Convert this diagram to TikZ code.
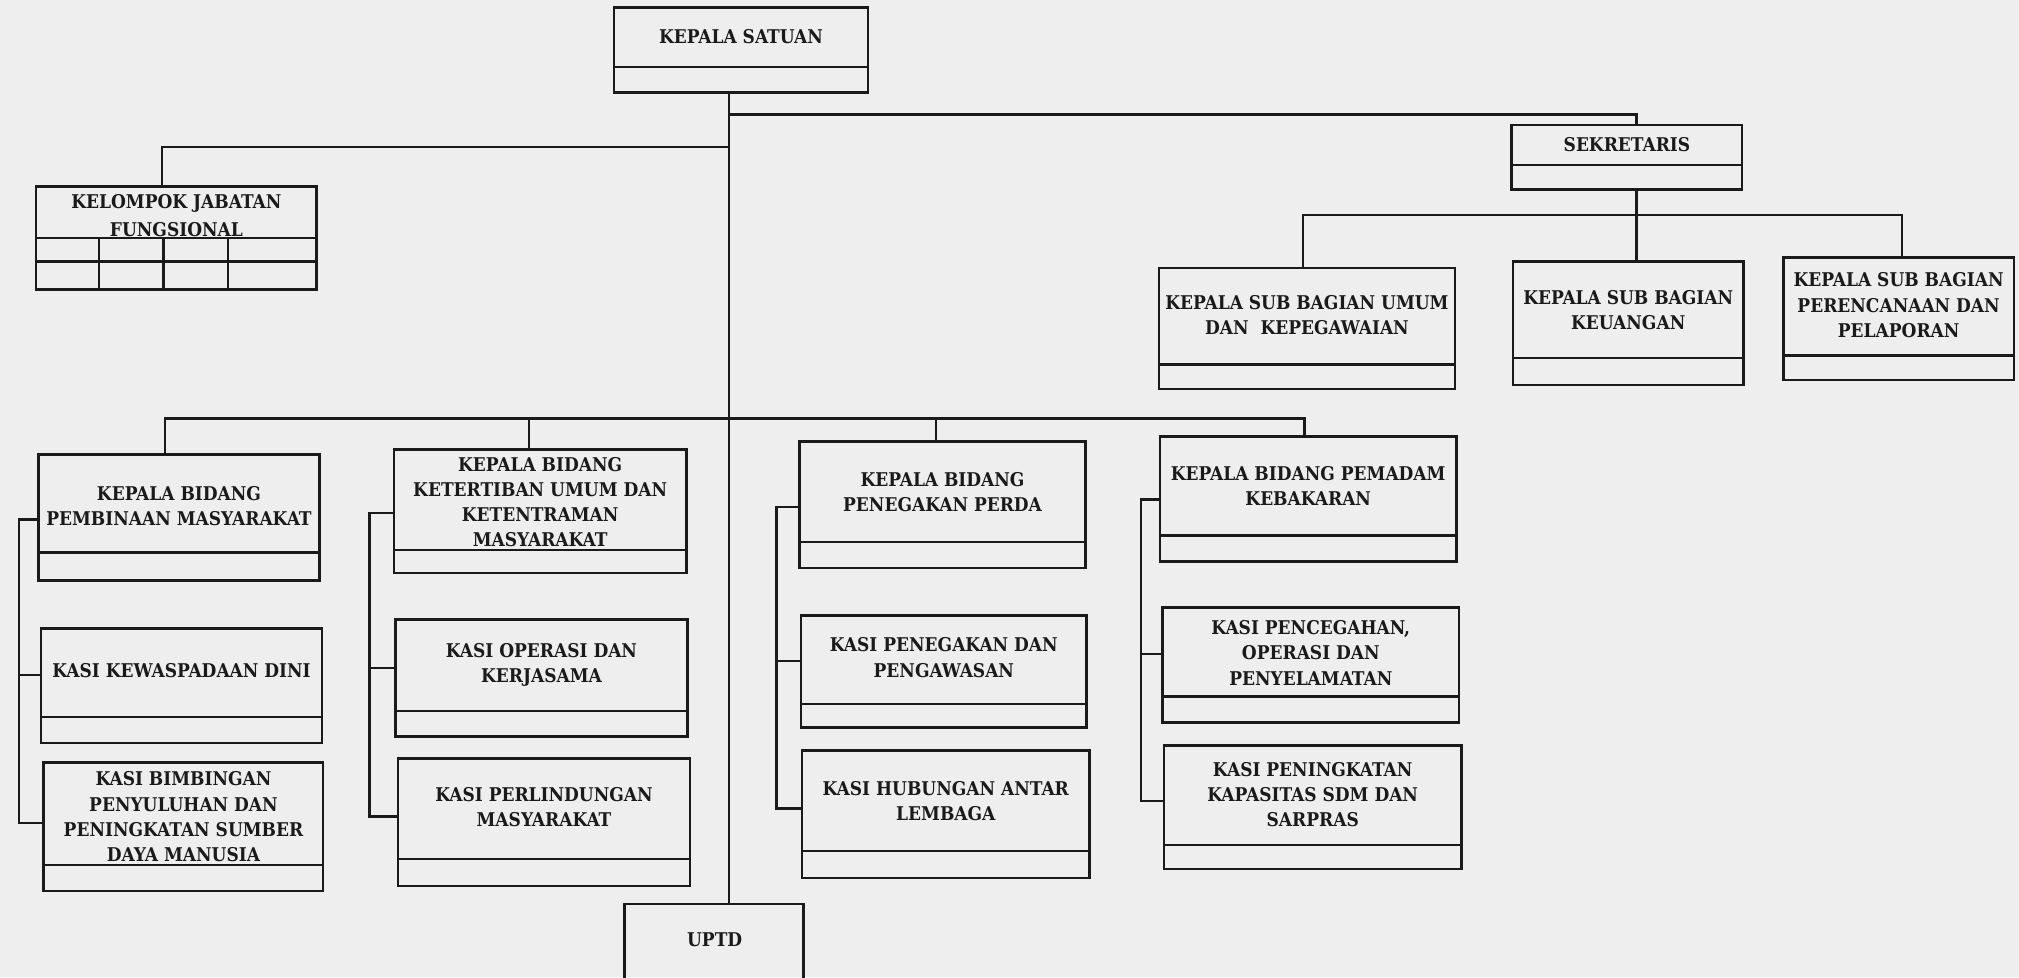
\documentclass[tikz,border=0pt]{standalone}
\usepackage{fontspec}
\usetikzlibrary{fit,calc}
\newfontfamily\orgfont{DejaVu Serif Condensed}
\definecolor{paper}{HTML}{EEEEEE}
\definecolor{ink}{HTML}{1A1A1A}

\tikzset{
  orgbox/.style={draw=ink, line width=1pt, inner sep=0pt, fit={#1}},
  wire/.style={draw=ink, line width=0.9pt},
  lbl/.style={font={\orgfont\bfseries\fontsize{7.35pt}{9.8pt}\selectfont}, text=ink,
              align=center, inner sep=0pt},
}

% name, x1, y1, x2, y2, divider y, text y, text
\newcommand\orgunit[8]{%
  \node[orgbox={(#2,#3) (#4,#5)}] (#1) {};
  \draw[wire] (#2,#6) -- (#4,#6);
  \node[lbl] (#1-t) at ({(#2+#4)/2},#7) {#8};
}

\begin{document}
\begin{tikzpicture}[x=0.5pt,y=-0.5pt]
  \useasboundingbox (0,0) rectangle (1568,759);
  \fill[paper] (0,0) rectangle (1568,759);
  \clip (0,0) rectangle (1568,759);

  % head and staff units
  \orgunit{ks}{477}{6}{674}{72}{52}{28.5}{KEPALA SATUAN}
  \orgunit{sek}{1174}{97}{1353}{147}{128}{112.6}{SEKRETARIS}
  \orgunit{umum}{900}{208}{1130}{302}{283}{245}{KEPALA SUB BAGIAN UMUM\\DAN\ \ KEPEGAWAIAN}
  \orgunit{keu}{1175}{203}{1354}{299}{278}{240.7}{KEPALA SUB BAGIAN\\KEUANGAN}
  \orgunit{ren}{1385}{200}{1564}{295}{276}{237}{KEPALA SUB BAGIAN\\PERENCANAAN DAN\\PELAPORAN}

  % functional group with its grid
  \node[orgbox={(28,145) (246,225)}] (kjf) {};
  \node[lbl, font={\orgfont\bfseries\fontsize{7.35pt}{11pt}\selectfont}] (kjf-t) at (137,167.6) {KELOMPOK JABATAN\\FUNGSIONAL};
  \draw[wire] (28,185) -- (246,185);
  \draw[wire] (28,203) -- (246,203);
  \foreach \cx in {77,127,177} \draw[wire] (\cx,185) -- (\cx,225);

  % field heads and their sections
  \orgunit{b1}{30}{353}{248}{451}{429}{393}{KEPALA BIDANG\\PEMBINAAN MASYARAKAT}
  \orgunit{b1a}{32}{488}{250}{577}{557}{520.7}{KASI KEWASPADAAN DINI}
  \orgunit{b1b}{34}{592}{251}{692}{672}{634.4}{KASI BIMBINGAN\\PENYULUHAN DAN\\PENINGKATAN SUMBER\\DAYA MANUSIA}

  \orgunit{b2}{306}{349}{533}{445}{427}{390}{KEPALA BIDANG\\KETERTIBAN UMUM DAN\\KETENTRAMAN\\MASYARAKAT}
  \orgunit{b2a}{307}{481}{534}{572}{552}{516.5}{KASI OPERASI DAN\\KERJASAMA}
  \orgunit{b2b}{309}{589}{536}{688}{667}{627}{KASI PERLINDUNGAN\\MASYARAKAT}

  \orgunit{b3}{621}{343}{843}{441}{421}{382}{KEPALA BIDANG\\PENEGAKAN PERDA}
  \orgunit{b3a}{622}{478}{844}{565}{547}{510.8}{KASI PENEGAKAN DAN\\PENGAWASAN}
  \orgunit{b3b}{623}{583}{846}{682}{661}{622.2}{KASI HUBUNGAN ANTAR\\LEMBAGA}

  \orgunit{b4}{901}{339}{1131}{436}{416}{377.5}{KEPALA BIDANG PEMADAM\\KEBAKARAN}
  \orgunit{b4a}{903}{472}{1133}{561}{541}{507}{KASI PENCEGAHAN,\\OPERASI DAN\\PENYELAMATAN}
  \orgunit{b4b}{904}{579}{1135}{675}{656}{617}{KASI PENINGKATAN\\KAPASITAS SDM DAN\\SARPRAS}

  % technical unit, running past the lower edge
  \node[orgbox={(485,702) (624,790)}] (uptd) {};
  \node[lbl] (uptd-t) at (555,730) {UPTD};

  % drop lines and bus levels
  \coordinate (tx) at (566,0);
  \coordinate (dK) at (126,0);
  \coordinate (dS) at (1271,0);
  \coordinate (dU) at (1012,0);
  \coordinate (dR) at (1477,0);
  \coordinate (d1) at (128,0);
  \coordinate (d2) at (411,0);
  \coordinate (d3) at (727,0);
  \coordinate (d4) at (1013,0);
  \coordinate (busS) at (0,89);
  \coordinate (busK) at (0,114);
  \coordinate (busU) at (0,167);
  \coordinate (busB) at (0,325);

  % trunk
  \draw[wire] (tx |- ks.south) -- (tx |- uptd.north);
  % to secretary and functional group
  \draw[wire] (tx |- busS) -- (dS |- busS) -- (dS |- sek.north);
  \draw[wire] (tx |- busK) -- (dK |- busK) -- (dK |- kjf.north);
  % secretary to sub-sections
  \draw[wire] (dS |- sek.south) -- (dS |- keu.north);
  \draw[wire] (dU |- umum.north) -- (dU |- busU) -- (dR |- busU) -- (dR |- ren.north);
  % bus to field heads
  \draw[wire] (d1 |- b1.north) -- (d1 |- busB) -- (d4 |- busB) -- (d4 |- b4.north);
  \draw[wire] (d2 |- busB) -- (d2 |- b2.north);
  \draw[wire] (d3 |- busB) -- (d3 |- b3.north);

  % brackets linking each field head to its sections
  \coordinate (p1a) at (15,403.5);  \coordinate (p1b) at (15,524);  \coordinate (p1c) at (15,639);
  \coordinate (p2a) at (287,398.6); \coordinate (p2b) at (287,519); \coordinate (p2c) at (287,634.2);
  \coordinate (p3a) at (603,393.5); \coordinate (p3b) at (603,513.6); \coordinate (p3c) at (603,628);
  \coordinate (p4a) at (886,388);   \coordinate (p4b) at (886,508); \coordinate (p4c) at (886,622);

  \draw[wire] (p1a -| b1.west) -- (p1a) -- (p1c) -- (p1c -| b1b.west);
  \draw[wire] (p1b) -- (p1b -| b1a.west);
  \draw[wire] (p2a -| b2.west) -- (p2a) -- (p2c) -- (p2c -| b2b.west);
  \draw[wire] (p2b) -- (p2b -| b2a.west);
  \draw[wire] (p3a -| b3.west) -- (p3a) -- (p3c) -- (p3c -| b3b.west);
  \draw[wire] (p3b) -- (p3b -| b3a.west);
  \draw[wire] (p4a -| b4.west) -- (p4a) -- (p4c) -- (p4c -| b4b.west);
  \draw[wire] (p4b) -- (p4b -| b4a.west);
\end{tikzpicture}
\end{document}
